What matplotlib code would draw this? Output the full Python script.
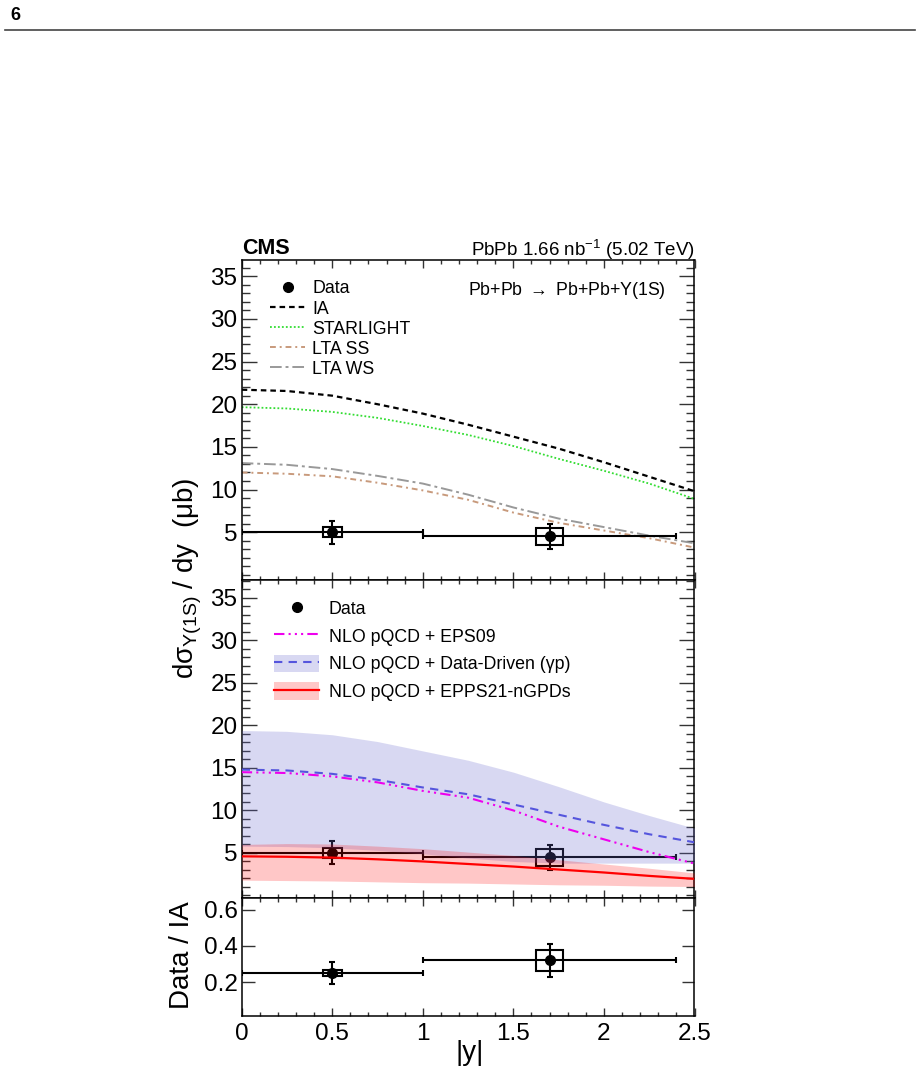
import matplotlib
matplotlib.use("Agg")
import matplotlib.pyplot as plt
from matplotlib.lines import Line2D
from matplotlib.patches import Rectangle, Patch
import numpy as np

plt.rcParams['font.family'] = ['Liberation Sans', 'DejaVu Sans']
plt.rcParams['mathtext.fontset'] = 'custom'
plt.rcParams['mathtext.rm'] = 'Liberation Sans'
plt.rcParams['mathtext.it'] = 'Liberation Sans:italic'
plt.rcParams['mathtext.bf'] = 'Liberation Sans:bold'

# ---- data ----
y_grid = [0.0, 0.25, 0.5, 0.75, 1.0, 1.25, 1.5, 1.75, 2.0, 2.25, 2.5]

ia = [21.7, 21.55, 21.0, 20.0, 18.9, 17.6, 16.2, 14.8, 13.2, 11.5, 9.8]
starlight = [19.65, 19.5, 19.1, 18.4, 17.45, 16.4, 15.1, 13.6, 12.2, 10.7, 8.9]
lta_ss = [12.0, 11.85, 11.55, 10.8, 9.9, 8.8, 7.3, 6.1, 5.2, 4.3, 3.2]
lta_ws = [13.1, 12.9, 12.4, 11.6, 10.7, 9.4, 7.9, 6.6, 5.6, 4.6, 3.7]

eps09 = [14.5, 14.4, 14.0, 13.3, 12.3, 11.5, 10.0, 8.1, 6.6, 5.1, 3.75]
dd = [14.8, 14.7, 14.3, 13.6, 12.7, 11.9, 10.7, 9.5, 8.3, 7.2, 6.25]
dd_hi = [19.4, 19.3, 18.9, 18.1, 17.0, 15.9, 14.5, 12.8, 11.0, 9.4, 7.9]
dd_lo = [5.8, 5.75, 5.6, 5.3, 4.9, 4.4, 4.0, 3.8, 3.8, 3.8, 3.8]
epps = [4.6, 4.55, 4.45, 4.25, 4.0, 3.7, 3.4, 3.05, 2.7, 2.3, 1.95]
epps_hi = [6.0, 6.1, 6.05, 5.8, 5.5, 5.1, 4.7, 4.2, 3.7, 3.2, 2.65]
epps_lo = [1.8, 1.75, 1.7, 1.6, 1.5, 1.45, 1.35, 1.25, 1.2, 1.1, 1.05]

bin_center = [0.5, 1.7]
bin_lo = [0.0, 1.0]
bin_hi = [1.0, 2.4]
box_halfwidth = [0.053, 0.074]
xsec = [5.0, 4.5]
xsec_stat = [1.35, 1.45]
xsec_syst = [0.57, 1.0]
ratio = [0.25, 0.32]
ratio_stat = [0.063, 0.092]
ratio_syst = [0.018, 0.06]

W, H = 920, 1075
fig = plt.figure(figsize=(9.2, 10.75), dpi=100)


def fax(x0, y0, x1, y1):
    return fig.add_axes([x0 / W, 1 - y1 / H, (x1 - x0) / W, (y1 - y0) / H])


L, R = 241.7, 694.5
ax1 = fax(L, 260, R, 580)
ax2 = fax(L, 580, R, 898)
ax3 = fax(L, 898, R, 1016)


def style(ax, ylen=11):
    ax.set_xlim(0, 2.5)
    ax.set_xticks(np.arange(0, 2.51, 0.5))
    ax.set_xticks(np.arange(0, 2.51, 0.1), minor=True)
    ax.tick_params(axis='both', which='both', direction='in', top=True, right=True,
                   width=1.0, labelsize=17.5, color='#333333')
    ax.tick_params(axis='x', which='major', length=6, pad=5)
    ax.tick_params(axis='x', which='minor', length=3)
    ax.tick_params(axis='y', which='major', length=ylen, pad=3)
    ax.tick_params(axis='y', which='minor', length=ylen / 2)
    for s in ax.spines.values():
        s.set_linewidth(1.1)


def draw_data(ax, yv, stat, syst, zorder=5):
    for i in range(len(bin_center)):
        ax.add_patch(Rectangle((bin_center[i] - box_halfwidth[i], yv[i] - syst[i]),
                               2 * box_halfwidth[i], 2 * syst[i], fill=False,
                               edgecolor='black', lw=1.5, zorder=zorder))
    xerr = [np.subtract(bin_center, bin_lo), np.subtract(bin_hi, bin_center)]
    ax.errorbar(bin_center, yv, xerr=xerr, yerr=stat, fmt='o', color='black',
                ms=7, lw=1.5, capsize=2, capthick=1.5, zorder=zorder)


# top panel
style(ax1)
ax1.set_ylim(-0.6, 36.9)
ax1.set_yticks(np.arange(5, 36, 5))
ax1.set_yticks(np.arange(0, 37, 1), minor=True)
ax1.tick_params(axis='x', labelbottom=False)
ax1.plot(y_grid, ia, color='black', lw=1.6, ls=(0, (2.5, 1.8)))
ax1.plot(y_grid, starlight, color='#33dd33', lw=1.3, ls=(0, (1, 1.2)))
ax1.plot(y_grid, lta_ss, color='#c89a7c', lw=1.4, ls=(0, (3, 2, 1, 2)))
ax1.plot(y_grid, lta_ws, color='#999999', lw=1.4, ls=(0, (6, 2, 1.5, 2)))
draw_data(ax1, xsec, xsec_stat, xsec_syst)

h1 = [Line2D([], [], marker='o', ls='none', color='black', ms=7),
      Line2D([], [], color='black', lw=1.6, ls=(0, (2.5, 1.8))),
      Line2D([], [], color='#33dd33', lw=1.3, ls=(0, (1, 1.2))),
      Line2D([], [], color='#c89a7c', lw=1.4, ls=(0, (3, 2, 1, 2))),
      Line2D([], [], color='#999999', lw=1.4, ls=(0, (6, 2, 1.5, 2)))]
ax1.legend(h1, ['Data', 'IA', 'STARLIGHT', 'LTA SS', 'LTA WS'], loc='upper left',
           bbox_to_anchor=(0.062, 0.936), frameon=False, fontsize=12.8,
           handlelength=2.0, handletextpad=0.4, labelspacing=0.17, borderpad=0,
           borderaxespad=0)
ax1.text(0.936, 0.906, r'Pb+Pb $\rightarrow$ Pb+Pb+Υ(1S)', transform=ax1.transAxes,
         ha='right', va='center', fontsize=12.8)

# middle panel
style(ax2)
ax2.set_ylim(-0.3, 37.1)
ax2.set_yticks(np.arange(5, 36, 5))
ax2.set_yticks(np.arange(0, 38, 1), minor=True)
ax2.tick_params(axis='x', labelbottom=False)
draw_data(ax2, xsec, xsec_stat, xsec_syst, zorder=2)
ax2.fill_between(y_grid, dd_lo, dd_hi, color='#6666cc', alpha=0.25, lw=0, zorder=3)
ax2.fill_between(y_grid, epps_lo, epps_hi, color='#ff0000', alpha=0.22, lw=0, zorder=3)
ax2.plot(y_grid, eps09, color='#ee00ee', lw=1.5, ls=(0, (5, 2, 1, 2, 1, 2, 1, 2)), zorder=4)
ax2.plot(y_grid, dd, color='#5555dd', lw=1.5, ls=(0, (4, 3)), zorder=4)
ax2.plot(y_grid, epps, color='#ff0000', lw=1.6, zorder=4)

h2 = [Line2D([], [], marker='o', ls='none', color='black', ms=7),
      Line2D([], [], color='#ee00ee', lw=1.5, ls=(0, (5, 2, 1, 2, 1, 2, 1, 2))),
      (Patch(facecolor='#6666cc', alpha=0.25, lw=0),
       Line2D([], [], color='#5555dd', lw=1.5, ls=(0, (4, 3)))),
      (Patch(facecolor='#ff0000', alpha=0.22, lw=0),
       Line2D([], [], color='#ff0000', lw=1.6))]
ax2.legend(h2, ['Data', 'NLO pQCD + EPS09', 'NLO pQCD + Data-Driven (γp)',
                'NLO pQCD + EPPS21-nGPDs'], loc='upper left',
           bbox_to_anchor=(0.072, 0.94), frameon=False, fontsize=12.8,
           handlelength=2.5, handleheight=1.15, handletextpad=0.55,
           labelspacing=0.5, borderpad=0, borderaxespad=0)

# ratio panel
style(ax3, ylen=9)
ax3.set_ylim(0.012, 0.665)
ax3.set_yticks([0.2, 0.4, 0.6])
ax3.set_yticklabels(['0.2', '0.4', '0.6'])
ax3.set_xticklabels(['0', '0.5', '1', '1.5', '2', '2.5'])
draw_data(ax3, ratio, ratio_stat, ratio_syst)

# labels
fig.text(188 / W, 1 - 578 / H, r'd$\mathrm{σ}_{\mathrm{Υ(1S)}}$ / dy  ($\mathrm{μ}$b)',
         rotation=90, ha='center', va='center', fontsize=20)
fig.text(182 / W, 1 - 955 / H, 'Data / IA', rotation=90, ha='center', va='center',
         fontsize=20)
fig.text(470 / W, 1 - 1053 / H, '|y|', ha='center', va='center', fontsize=20)

fig.text(L / W, 1 - 254 / H, 'CMS', fontweight='bold', fontsize=15.5,
         ha='left', va='baseline')
fig.text(R / W, 1 - 256 / H, 'PbPb 1.66 nb$^{\\mathrm{-1}}$ (5.02 TeV)', fontsize=13.5,
         ha='right', va='baseline')

# page header
fig.text(10 / W, 1 - 15 / H, '6', fontweight='bold', fontsize=13, ha='left', va='center')
fig.add_artist(Line2D([5 / W, 915 / W], [1 - 30 / H, 1 - 30 / H], color='#444444', lw=1.2))

fig.savefig('out.png', dpi=100)
